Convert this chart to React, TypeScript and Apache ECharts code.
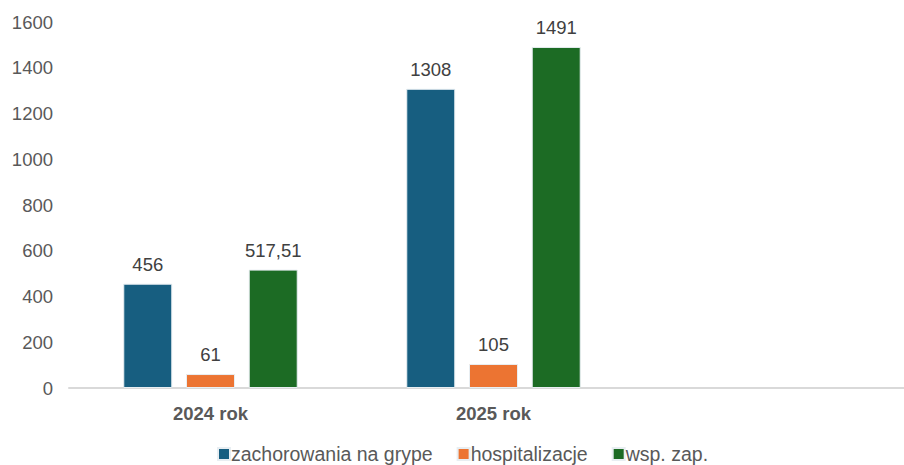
import React, { useEffect, useRef } from "react";
import * as echarts from "echarts";

const categories = ["2024 rok", "2025 rok", ""];
const seriesNames = ["zachorowania na grype", "hospitalizacje", "wsp. zap."];
const zachorowania = [456, 1308, null];
const hospitalizacje = [61, 105, null];
const wspZap = [517.51, 1491, null];
const colors = ["#175e80", "#ec7432", "#1c6b24"];

const FONT = "'Liberation Sans', Arial, sans-serif";

export default function App() {
  const ref = useRef<HTMLDivElement>(null);
  useEffect(() => {
    if (!ref.current) return;
    const chart = echarts.init(ref.current, null, { renderer: "svg" });
    const fmt = (p: any) =>
      p.value == null ? "" : String(p.value).replace(".", ",");
    const mk = (name: string, data: any[], color: string) => ({
      name,
      type: "bar",
      data,
      barWidth: 49,
      barGap: "28%",
      itemStyle: { color, borderColor: "#e8eef2", borderWidth: 1 },
      label: {
        show: true,
        position: "top",
        distance: 10,
        formatter: fmt,
        color: "#404040",
        fontSize: 18.5,
        fontFamily: FONT,
      },
    });
    chart.setOption({
      animation: false,
      textStyle: { fontFamily: FONT },
      grid: { left: 69, right: 2, top: 22, bottom: 77 },
      legend: {
        bottom: -4,
        left: 212,
        itemWidth: 12,
        itemHeight: 12,
        itemGap: 24,
        icon: "rect",
        textStyle: { color: "#595959", fontSize: 19.5, fontFamily: FONT, padding: [0, 0, 0, -4] },
        data: seriesNames,
      },
      xAxis: {
        type: "category",
        data: categories,
        axisLine: { lineStyle: { color: "#d9d9d9", width: 2 } },
        axisTick: { show: false },
        axisLabel: {
          color: "#595959",
          fontSize: 18.5,
          fontWeight: "bold",
          margin: 16,
          fontFamily: FONT,
        },
      },
      yAxis: {
        type: "value",
        min: 0,
        max: 1600,
        interval: 200,
        axisLine: { show: false },
        axisTick: { show: false },
        splitLine: { show: false },
        axisLabel: {
          color: "#595959",
          fontSize: 18.5,
          margin: 16,
          fontFamily: FONT,
          formatter: (v: number) => String(v),
        },
      },
      series: [
        mk(seriesNames[0], zachorowania, colors[0]),
        mk(seriesNames[1], hospitalizacje, colors[1]),
        mk(seriesNames[2], wspZap, colors[2]),
      ],
    });
    return () => chart.dispose();
  }, []);
  return (
    <div
      style={{ position: "absolute", left: 0, top: 0, width: 904, height: 465, overflow: "hidden", background: "#fff" }}
    >
      <div ref={ref} style={{ width: 920, height: 465 }} />
    </div>
  );
}
